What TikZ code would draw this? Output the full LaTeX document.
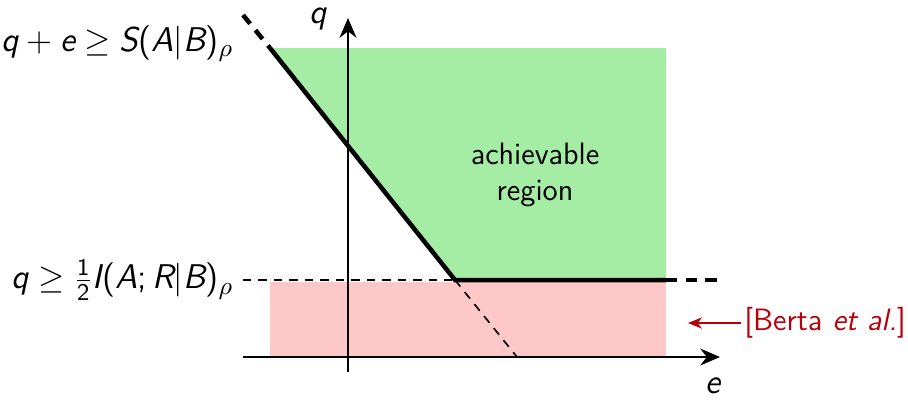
\documentclass[tikz,border=0pt]{standalone}
\usetikzlibrary{arrows.meta}
% sans-serif letters and operators in math
\DeclareSymbolFont{sfletters}{TU}{lmss}{m}{sl}
\SetSymbolFont{operators}{normal}{TU}{lmss}{m}{n}
\DeclareMathSymbol{q}{\mathalpha}{sfletters}{`q}
\DeclareMathSymbol{e}{\mathalpha}{sfletters}{`e}
\DeclareMathSymbol{S}{\mathalpha}{sfletters}{`S}
\DeclareMathSymbol{A}{\mathalpha}{sfletters}{`A}
\DeclareMathSymbol{B}{\mathalpha}{sfletters}{`B}
\DeclareMathSymbol{I}{\mathalpha}{sfletters}{`I}
\DeclareMathSymbol{R}{\mathalpha}{sfletters}{`R}
\definecolor{achgreen}{RGB}{165,236,165}
\definecolor{bertapink}{RGB}{255,200,200}
\definecolor{bertared}{RGB}{185,0,10}
\tikzset{
  axis/.style={line width=0.8pt,-{Stealth[length=7pt,width=6pt]}},
  bound/.style={line width=1.6pt},
  boundext/.style={line width=1.6pt,dash pattern=on 4pt off 3pt},
  helper/.style={line width=0.6pt,dash pattern=on 3pt off 2.5pt},
  mathlabel/.style={font=\fontsize{12.2}{14}\selectfont,inner xsep=0pt}
}
\begin{document}
\sffamily\fontsize{11}{13}\selectfont
\begin{tikzpicture}[x=0.125cm,y=-0.125cm]
\useasboundingbox (0,0) rectangle (90.8,39.9);
% corner points of the region
\coordinate (Top) at (27.0,4.8);
\coordinate (Kink) at (45.5,28.0);
\coordinate (Right) at (66.6,28.0);
\coordinate (TopExt) at (24.3,1.5);
\coordinate (RightExt) at (71.8,28.0);
\coordinate (LeftExt) at (24.3,28.0);
\coordinate (Cross) at (51.7,35.7);
\coordinate (eFrom) at (24.3,35.7);
\coordinate (eTo) at (72.0,35.7);
\coordinate (qFrom) at (34.8,37.2);
\coordinate (qTo) at (34.8,1.8);
% shaded regions
\fill[achgreen] (Top) -- (66.6,4.8) -- (Right) -- (Kink) -- cycle;
\fill[bertapink] (27.0,28.2) rectangle (66.6,35.7);
% axes
\draw[axis] (eFrom) -- (eTo);
\draw[axis] (qFrom) -- (qTo);
\node[mathlabel] (qLabel) at (31.8,1.9) {$q$};
\node[mathlabel] (eLabel) at (71.3,38.6) {$e$};
% boundary
\draw[helper] (LeftExt) -- (Kink);
\draw[helper] (Kink) -- (Cross);
\draw[bound] (Top) -- (Kink) -- (Right);
\draw[boundext] (TopExt) -- (Top);
\draw[boundext] (Right) -- (RightExt);
\node[mathlabel,anchor=east] (sumBound) at (23.4,4.4) {$q+e\geq S(A|B)_\rho$};
\node[mathlabel,anchor=east] (infoBound) at (23.4,28.0) {$q\geq\frac{1}{2}I(A;R|B)_\rho$};
\node[align=center] (achieve) at (53.5,17.5) {achievable\\region};
\node[anchor=west,inner xsep=1pt,text=bertared] (berta) at (74.1,32.3) {[Berta \textit{et al.}]};
\draw[bertared,line width=0.6pt,-{Stealth[length=5pt,width=4pt]}] (berta.west) -- ++(-5.3,0) coordinate (bertaTip);
\end{tikzpicture}
\end{document}
